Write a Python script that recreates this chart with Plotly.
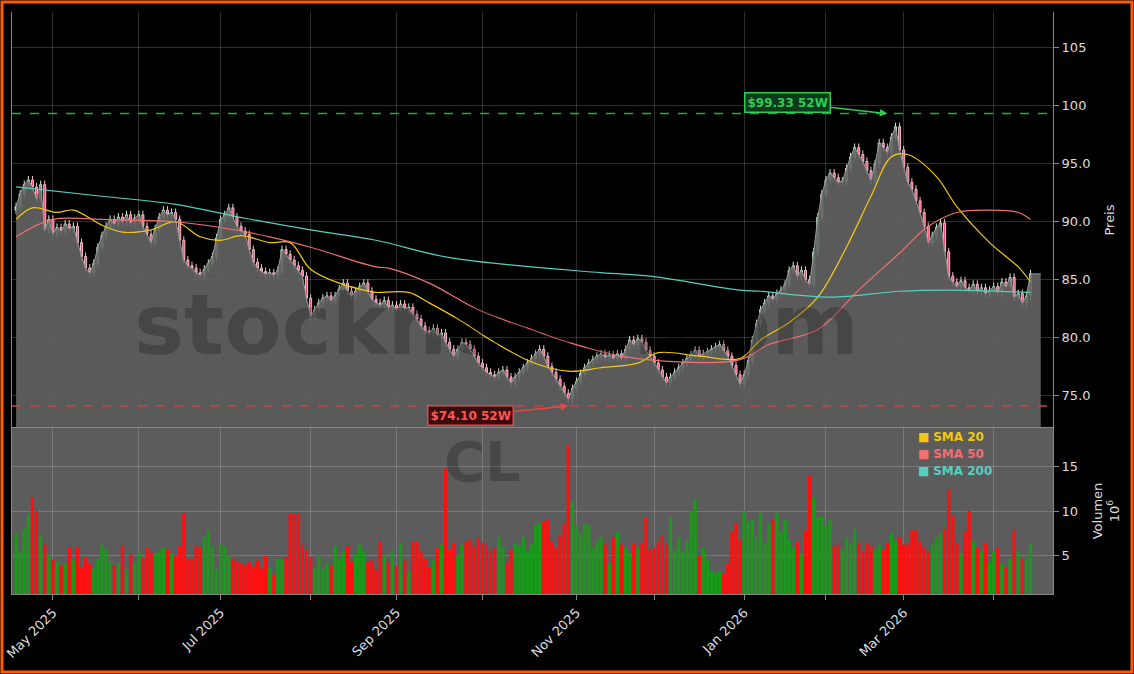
import pandas as pd
import plotly.graph_objects as go
from pandas.tseries.offsets import CustomBusinessDay

START = "2025-04-17"
HOLIDAYS = ["2025-04-18", "2025-05-26", "2025-06-19", "2025-07-04", "2025-09-01", "2025-11-27",
            "2025-12-25", "2026-01-01", "2026-01-19", "2026-02-16", "2026-04-03"]

closes = [
    91.3, 92.4, 93.2, 93.6, 93.0, 92.0, 93.2, 89.3, 90.2, 89.0,
    89.5, 89.2, 89.8, 89.4, 89.6, 88.2, 87.0, 86.0, 85.6, 86.4,
    87.8, 88.8, 89.6, 90.2, 89.8, 90.4, 90.0, 90.6, 89.9, 90.3,
    90.6, 89.6, 88.9, 88.2, 89.4, 90.4, 91.0, 90.6, 90.8, 90.2,
    88.4, 86.7, 86.2, 86.0, 85.6, 85.4, 85.9, 86.4, 87.0, 88.6,
    90.2, 90.6, 91.2, 90.4, 89.6, 89.2, 88.9, 87.6, 86.5, 86.0,
    85.7, 85.5, 85.6, 85.4, 85.8, 87.6, 87.2, 86.7, 86.2, 85.8,
    85.3, 83.4, 81.8, 82.4, 83.0, 83.4, 83.6, 83.2, 83.6, 84.2,
    84.7, 84.0, 83.6, 84.0, 84.4, 84.7, 84.0, 83.3, 83.0, 82.8,
    83.2, 82.6, 82.8, 82.4, 82.9, 82.5, 82.6, 82.0, 81.6, 81.0,
    80.6, 80.4, 80.8, 80.2, 80.4, 79.6, 79.0, 78.4, 79.0, 79.6,
    79.4, 79.0, 78.4, 77.8, 77.4, 77.0, 76.8, 76.6, 77.0, 77.2,
    76.6, 76.1, 76.6, 77.0, 77.4, 77.8, 78.2, 78.6, 79.0, 78.4,
    77.5, 77.0, 76.4, 75.8, 75.2, 74.7, 75.6, 76.2, 76.9, 77.4,
    77.8, 78.1, 78.4, 78.6, 78.3, 78.5, 78.2, 78.6, 78.2, 79.0,
    79.8, 79.4, 79.9, 79.6, 78.9, 78.4, 77.8, 77.2, 76.6, 76.1,
    76.6, 77.0, 77.4, 77.8, 78.2, 78.5, 78.9, 78.4, 78.6, 78.8,
    79.0, 79.2, 79.4, 78.9, 78.4, 77.6, 76.8, 76.0, 76.8, 78.0,
    79.8, 81.2, 82.4, 83.0, 83.6, 83.3, 83.8, 84.1, 84.6, 85.8,
    86.2, 85.3, 85.8, 85.0, 84.6, 87.4, 90.4, 92.4, 93.6, 94.2,
    93.8, 93.4, 93.5, 94.6, 95.6, 96.4, 95.8, 95.2, 94.4, 93.6,
    95.0, 96.8, 96.4, 96.0, 97.3, 98.2, 96.2, 94.7, 93.4, 92.8,
    91.8, 90.8, 89.6, 88.2, 88.8, 89.5, 89.9, 87.4, 85.3, 84.8,
    84.4, 84.9, 84.3, 84.1, 84.6, 84.0, 84.3, 83.8, 84.1, 84.4,
    83.9, 84.8, 84.4, 85.2, 83.5, 83.8, 83.0, 83.6, 85.5,
]

volumes = [
    7.5, 5.4, 8.0, 9.6, 11.5, 10.0, 7.2, 6.2, 5.0, 4.5,
    4.2, 3.8, 4.0, 5.9, 4.4, 5.9, 3.6, 4.8, 4.0, 3.5,
    4.5, 6.2, 5.6, 4.3, 3.8, 4.1, 6.1, 3.4, 5.1, 4.2,
    5.3, 4.7, 5.8, 5.3, 5.2, 5.5, 5.8, 5.6, 5.2, 5.0,
    6.0, 9.7, 4.6, 4.5, 6.0, 5.9, 7.0, 7.8, 6.0, 3.4,
    6.2, 6.0, 5.0, 4.6, 4.3, 4.0, 3.9, 4.2, 3.7, 4.4,
    3.5, 4.9, 3.5, 2.8, 4.6, 4.5, 4.8, 9.7, 9.7, 9.7,
    6.2, 5.6, 4.8, 3.6, 5.0, 3.4, 4.2, 3.8, 6.0, 4.6,
    5.5, 6.0, 4.3, 5.1, 6.2, 5.5, 4.2, 4.4, 3.3, 6.6,
    5.0, 4.2, 5.5, 3.8, 6.4, 4.4, 3.2, 6.6, 6.6, 5.4,
    4.6, 3.6, 4.4, 5.8, 6.2, 14.8, 5.6, 6.4, 5.0, 6.2,
    6.6, 6.8, 6.0, 7.0, 6.4, 6.2, 5.4, 5.8, 7.0, 6.0,
    4.2, 5.6, 6.4, 6.0, 7.0, 5.4, 6.2, 8.4, 8.6, 8.8,
    9.0, 6.6, 5.8, 7.2, 8.6, 17.5, 11.0, 8.4, 7.4, 8.6,
    8.4, 5.8, 6.6, 7.0, 6.2, 4.0, 7.0, 7.6, 6.2, 5.8,
    5.2, 6.4, 5.8, 6.4, 9.3, 5.6, 5.8, 6.6, 7.2, 6.2,
    9.3, 5.6, 7.0, 5.4, 6.6, 10.0, 11.3, 5.0, 5.8, 4.4,
    3.2, 3.0, 3.2, 2.9, 4.0, 7.6, 8.6, 6.8, 10.0, 8.8,
    9.0, 7.0, 9.8, 6.4, 8.6, 9.0, 9.8, 7.6, 9.0, 6.8,
    5.8, 6.6, 5.2, 7.8, 14.0, 11.5, 9.2, 9.4, 8.4, 9.0,
    6.0, 6.2, 5.6, 7.0, 6.4, 8.0, 6.4, 5.4, 6.4, 6.0,
    5.6, 6.2, 5.6, 6.4, 7.4, 6.6, 7.0, 6.2, 6.2, 7.8,
    7.8, 6.6, 5.8, 5.4, 6.2, 7.0, 7.4, 8.0, 12.5, 9.4,
    6.4, 5.2, 7.6, 10.0, 6.6, 5.8, 5.4, 6.4, 4.2, 5.4,
    5.8, 4.0, 3.6, 4.6, 7.8, 5.4, 4.6, 4.8, 6.4,
]

# moving averages (index, value)
sma20_idx = [0, 4, 10, 14, 21, 26, 33, 39, 45, 50, 55, 62, 67, 72, 79, 88, 89, 96, 101, 109, 116, 126,
             135, 143, 152, 157, 167, 177, 182, 189, 196, 203, 209, 214, 218, 225, 230, 238, 245, 248]
sma20_val = [90.2, 91.2, 90.8, 91.0, 89.7, 89.1, 89.3, 90.0, 88.7, 88.4, 88.8, 88.2, 88.2, 85.9, 84.7, 83.9,
             83.9, 83.9, 83.0, 81.4, 79.8, 77.9, 77.1, 77.4, 77.8, 78.7, 78.4, 78.2, 79.8, 81.3, 83.5,
             87.8, 92.2, 95.6, 95.8, 93.9, 91.3, 88.2, 86.1, 84.8]
sma50_idx = [0, 9, 21, 39, 50, 62, 72, 88, 91, 101, 113, 126, 135, 148, 162, 177, 184, 196, 206, 216,
             223, 230, 238, 245, 248]
sma50_val = [88.7, 90.2, 90.2, 90.0, 89.5, 88.7, 87.8, 86.1, 86.0, 84.7, 82.4, 80.7, 79.6, 78.4, 77.9,
             78.1, 79.4, 80.7, 84.1, 87.3, 89.6, 90.8, 91.0, 90.8, 90.2]
sma200_idx = [0, 21, 39, 56, 72, 88, 106, 143, 155, 177, 182, 199, 216, 228, 248]
sma200_val = [93.0, 92.2, 91.5, 90.3, 89.3, 88.4, 86.9, 85.6, 85.3, 84.1, 84.0, 83.5, 84.0, 84.1, 83.9]

HIGH_52W, HIGH_IDX = 99.33, 213
LOW_52W, LOW_IDX = 74.10, 135

price_ticks = [75, 80, 85, 90, 95, 100, 105]
price_labels = ["75.0", "80.0", "85.0", "90.0", "95.0", "100", "105"]
vol_ticks = [5, 10, 15]

# ---------------------------------------------------------------
n = len(closes)
dates = pd.date_range(START, periods=n, freq=CustomBusinessDay(holidays=HOLIDAYS))
x = list(range(n))
opens = [closes[0] - 0.3] + closes[:-1]
highs = [max(o, c) + 0.35 for o, c in zip(opens, closes)]
lows = [min(o, c) - 0.35 for o, c in zip(opens, closes)]

month_idx, month_txt = [], []
prev = None
for i, d in enumerate(dates):
    key = (d.year, d.month)
    if key != prev:
        if prev is not None:
            month_idx.append(i)
            month_txt.append(d.strftime("%b %Y") if d.month % 2 == 1 else "")
        prev = key

fig = go.Figure()
fig.add_trace(go.Scatter(x=x + [n + 1.5], y=closes + [closes[-1]], mode="lines",
                         line=dict(color="#9a9a9a", width=1), fill="tozeroy",
                         fillcolor="rgba(100,100,100,0.9)", yaxis="y", hoverinfo="skip",
                         showlegend=False))
fig.add_trace(go.Candlestick(x=x, open=opens, high=highs, low=lows, close=closes,
                             increasing=dict(line=dict(color="#c8eed0", width=1), fillcolor="#4fc064"),
                             decreasing=dict(line=dict(color="#f4c0cc", width=1), fillcolor="#ee4470"),
                             whiskerwidth=0, yaxis="y", showlegend=False))
for xi, yv, col in [(sma20_idx, sma20_val, "#f2c811"), (sma50_idx, sma50_val, "#f07070"),
                    (sma200_idx, sma200_val, "#55cfc0")]:
    fig.add_trace(go.Scatter(x=xi, y=yv, mode="lines", line=dict(color=col, width=1.2, shape="spline"),
                             yaxis="y", showlegend=False))
vcol = ["#1a9a1a" if c >= o else "#ff1010" for o, c in zip(opens, closes)]
fig.add_trace(go.Bar(x=x, y=volumes, marker=dict(color=vcol, line=dict(width=0)), width=0.8,
                     yaxis="y2", xaxis="x", showlegend=False))

fig.add_hline(y=HIGH_52W, line=dict(color="#22aa44", width=1.5, dash="dash"), yref="y")
fig.add_hline(y=LOW_52W, line=dict(color="#cc4444", width=1.5, dash="dash"), yref="y")

fig.add_annotation(x=HIGH_IDX, y=HIGH_52W, xref="x", yref="y", text="<b>$99.33 52W</b>",
                   ax=-100, ay=-11, showarrow=True, arrowhead=2, arrowcolor="#2ecc55", arrowwidth=1.5,
                   font=dict(color="#2ecc55", size=12, family="DejaVu Sans"),
                   bgcolor="#0d3a1a", bordercolor="#2ecc55", borderwidth=1.5, borderpad=2)
fig.add_annotation(x=LOW_IDX, y=LOW_52W, xref="x", yref="y", text="<b>$74.10 52W</b>",
                   ax=-98, ay=10, showarrow=True, arrowhead=2, arrowcolor="#ee4444", arrowwidth=1.5,
                   font=dict(color="#ff5555", size=12, family="DejaVu Sans"),
                   bgcolor="#3a0d0d", bordercolor="#ee4444", borderwidth=1.5, borderpad=2)

# watermarks
fig.add_annotation(x=0.465, y=0.462, xref="paper", yref="paper", text="<b>stocknews.com</b>",
                   showarrow=False, yanchor="middle",
                   font=dict(size=84, color="rgba(0,0,0,0.22)", family="DejaVu Sans"))
fig.add_annotation(x=0.452, y=0.227, xref="paper", yref="paper", text="<b>CL</b>",
                   showarrow=False, yanchor="middle",
                   font=dict(size=56, color="rgba(0,0,0,0.22)", family="DejaVu Sans"))

for k, (lab, col) in enumerate([("SMA 20", "#f2c811"), ("SMA 50", "#f07070"), ("SMA 200", "#55cfc0")]):
    fig.add_annotation(x=0.868, y=0.269 - k * 0.029, xref="paper", yref="paper", xanchor="left",
                       yanchor="middle", text=f"■ <b>{lab}</b>", showarrow=False,
                       font=dict(size=12, color=col, family="DejaVu Sans"))

W, H = 1134, 674
L, R, T, B = 12, 81, 12, 80
pw, ph = W - L - R, H - T - B
split = 166 / ph
fig.add_shape(type="rect", xref="paper", yref="paper", x0=0, x1=1, y0=0, y1=split,
              fillcolor="#5c5c5c", line=dict(width=0), layer="below")
fig.add_shape(type="rect", xref="paper", yref="paper", x0=-(L - 2) / pw, x1=1 + (R - 2) / pw,
              y0=-(B - 2) / ph, y1=1 + (T - 2) / ph, line=dict(color="#ff5a00", width=3))

grid = "rgba(255,255,255,0.18)"
axfont = dict(color="#dddddd", size=13, family="DejaVu Sans")
fig.update_layout(
    width=W, height=H, margin=dict(l=L, r=R, t=T, b=B, autoexpand=False),
    paper_bgcolor="black", plot_bgcolor="black", showlegend=False,
    xaxis=dict(range=[-1, n + 4.5], anchor="y2", tickvals=month_idx, ticktext=month_txt,
               tickangle=-45, tickfont=axfont, gridcolor=grid, showline=True, linecolor="#888",
               mirror=True, rangeslider=dict(visible=False), ticks="outside", tickcolor="#888",
               zeroline=False, automargin=False),
    yaxis=dict(domain=[split, 1], side="right", range=[72.2, 108.1], tickvals=price_ticks,
               ticktext=price_labels, tickfont=axfont, gridcolor=grid, showline=True,
               linecolor="#888", mirror=True, zeroline=False, ticks="outside", tickcolor="#888",
               title=dict(text="Preis", font=axfont), automargin=False),
    yaxis2=dict(domain=[0, split], side="right", range=[0.6, 19.4], tickvals=vol_ticks,
                tickfont=axfont, gridcolor=grid, showline=True, linecolor="#888", mirror=True,
                zeroline=False, ticks="outside", tickcolor="#888", automargin=False,
                title=dict(text="Volumen<br>10<sup>6</sup>", font=axfont)),
    bargap=0.1,
)
fig.update_xaxes(showgrid=True)
fig.write_html("out.html", config={"displayModeBar": False})

with open("out.html", encoding="utf-8") as f:
    html = f.read()
html = html.replace("<head>", "<head><style>html,body{margin:0;padding:0;overflow:hidden;background:black}</style>", 1)
with open("out.html", "w", encoding="utf-8") as f:
    f.write(html)
